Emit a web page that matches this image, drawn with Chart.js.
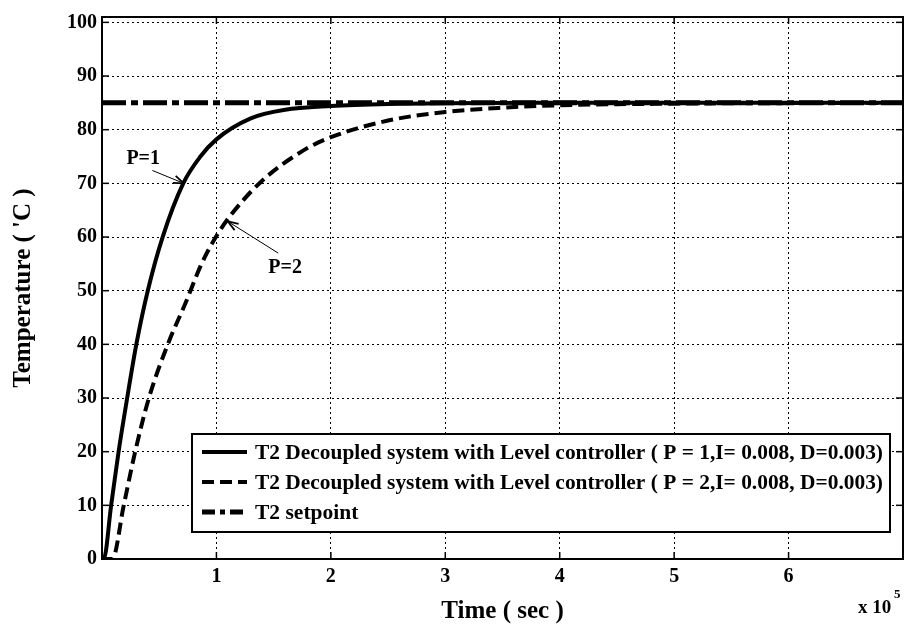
<!DOCTYPE html>
<html>
<head>
<meta charset="utf-8">
<script src="https://cdn.jsdelivr.net/npm/chart.js@4.4.1/dist/chart.umd.min.js"></script>
<style>
  html, body { margin: 0; padding: 0; background: #fff; }
  #wrap { width: 905px; height: 637px; }
</style>
</head>
<body>
<div id="wrap"><canvas id="myChart" width="905" height="637"></canvas></div>
<script>
// time in units of 1e5 s, temperature in 'C
const timeP1 = [0, 0.015, 0.08, 0.145, 0.22, 0.30, 0.40, 0.53, 0.71, 0.86, 1.0, 1.3, 1.6, 2.0, 2.5, 3.0, 4.0, 5.0, 7.0];
const tempP1 = [0, 0, 10, 20, 30, 40, 50, 60, 70, 75.0, 78.2, 82.1, 83.7, 84.4, 84.8, 84.95, 85, 85, 85];
const timeP2 = [0, 0.09, 0.19, 0.29, 0.41, 0.575, 0.73, 0.87, 1.0, 1.13, 1.4, 1.75, 2.0, 2.5, 3.0, 3.5, 4.0, 5.0, 6.0, 7.0];
const tempP2 = [0, 0, 10, 20, 30, 40, 47.7, 55.0, 60.2, 64.2, 70.5, 76.0, 78.6, 81.7, 83.3, 84.1, 84.55, 84.85, 84.95, 85];
const timeSet = [0, 7];
const tempSet = [85, 85];

const xTicks = [1, 2, 3, 4, 5, 6];
const yTicks = [0, 10, 20, 30, 40, 50, 60, 70, 80, 90, 100];

const seriesLabels = [
  'T2 Decoupled system with Level controller ( P = 1,I= 0.008, D=0.003)',
  'T2 Decoupled system with Level controller ( P = 2,I= 0.008, D=0.003)',
  'T2 setpoint'
];

const FONT = '"Liberation Serif", "Times New Roman", serif';

function toPoints(xs, ys) {
  return xs.map((x, i) => ({ x: x, y: ys[i] }));
}

// arrows pointing at the curves: text position, arrow start, arrow tip (data units)
const notes = [
  { text: 'P=1', tx: 0.36, ty: 74.6, x0: 0.44, y0: 72.4, x1: 0.715, y1: 70.0 },
  { text: 'P=2', tx: 1.60, ty: 54.2, x0: 1.54, y0: 57.0, x1: 1.10, y1: 62.9 }
];

function line(ctx, x0, y0, x1, y1) {
  ctx.beginPath();
  ctx.moveTo(x0, y0);
  ctx.lineTo(x1, y1);
  ctx.stroke();
}

const frame = {
  id: 'frame',
  afterDraw(chart) {
    const ctx = chart.ctx;
    const area = chart.chartArea;
    const xs = chart.scales.x;
    const ys = chart.scales.y;
    ctx.save();
    ctx.strokeStyle = '#000';
    ctx.fillStyle = '#000';

    // inner tick marks, matlab style
    ctx.lineWidth = 1.5;
    ctx.setLineDash([]);
    for (const v of xTicks) {
      const px = xs.getPixelForValue(v);
      line(ctx, px, area.bottom, px, area.bottom - 7);
      line(ctx, px, area.top, px, area.top + 7);
    }
    for (const v of yTicks) {
      const py = ys.getPixelForValue(v);
      line(ctx, area.left, py, area.left + 7, py);
      line(ctx, area.right, py, area.right - 7, py);
    }

    // axes box
    ctx.lineWidth = 2;
    ctx.strokeRect(area.left, area.top, area.right - area.left, area.bottom - area.top);

    // P labels with arrows
    ctx.font = 'bold 20px ' + FONT;
    ctx.textAlign = 'center';
    ctx.textBaseline = 'middle';
    for (const n of notes) {
      ctx.fillText(n.text, xs.getPixelForValue(n.tx), ys.getPixelForValue(n.ty));
      const ax = xs.getPixelForValue(n.x0), ay = ys.getPixelForValue(n.y0);
      const bx = xs.getPixelForValue(n.x1), by = ys.getPixelForValue(n.y1);
      ctx.lineWidth = 1;
      line(ctx, ax, ay, bx, by);
      const ang = Math.atan2(by - ay, bx - ax);
      ctx.lineWidth = 1.8;
      for (const s of [-1, 1]) {
        line(ctx, bx, by, bx - 11 * Math.cos(ang + s * 0.35), by - 11 * Math.sin(ang + s * 0.35));
      }
    }

    // legend box
    const lx = 192, ly = 434, lw = 698, lh = 98;
    ctx.fillStyle = '#fff';
    ctx.fillRect(lx, ly, lw, lh);
    ctx.lineWidth = 2;
    ctx.strokeRect(lx, ly, lw, lh);
    ctx.fillStyle = '#000';
    ctx.textAlign = 'left';
    const rows = [452, 482, 512];
    chart.data.datasets.forEach((ds, i) => {
      const y = rows[i];
      ctx.lineWidth = ds.borderWidth;
      ctx.setLineDash(i === 2 ? [13, 5, 5, 5] : (ds.borderDash || []));
      line(ctx, 202, y, 247, y);
      ctx.setLineDash([]);
      ctx.font = 'bold 21.5px ' + FONT;
      ctx.fillText(seriesLabels[i], 255, y + 1, i === 2 ? 200 : 628);
    });

    // exponent of the time axis
    ctx.font = 'bold 19px ' + FONT;
    ctx.textAlign = 'left';
    ctx.fillText('x 10', 858, 608);
    ctx.font = 'bold 13px ' + FONT;
    ctx.fillText('5', 894, 595);
    ctx.restore();
  }
};

const ctx = document.getElementById('myChart').getContext('2d');
const myChart = new Chart(ctx, {
  type: 'line',
  plugins: [frame],
  data: {
    datasets: [{
      label: seriesLabels[0],
      data: toPoints(timeP1, tempP1),
      borderColor: '#000',
      borderWidth: 4,
      pointRadius: 0,
      cubicInterpolationMode: 'monotone'
    }, {
      label: seriesLabels[1],
      data: toPoints(timeP2, tempP2),
      borderColor: '#000',
      borderWidth: 4,
      borderDash: [12, 6],
      pointRadius: 0,
      cubicInterpolationMode: 'monotone'
    }, {
      label: seriesLabels[2],
      data: toPoints(timeSet, tempSet),
      borderColor: '#000',
      borderWidth: 5,
      borderDash: [24, 5, 7, 5],
      pointRadius: 0
    }]
  },
  options: {
    responsive: false,
    animation: false,
    layout: { padding: { top: 10, right: 2, left: 0, bottom: 0 } },
    plugins: {
      legend: { display: false },
      tooltip: { enabled: false }
    },
    scales: {
      x: {
        type: 'linear',
        min: 0,
        max: 7,
        afterBuildTicks: s => { s.ticks = xTicks.map(v => ({ value: v })); },
        afterFit: s => { s.height = 78; },
        grid: { color: '#000', lineWidth: 1, drawTicks: false },
        border: { display: false, dash: [2, 3] },
        ticks: {
          color: '#000',
          padding: 6,
          maxRotation: 0,
          font: { family: FONT, size: 20, weight: 'bold' }
        },
        title: {
          display: true,
          text: 'Time ( sec )',
          color: '#000',
          padding: { top: 0, bottom: 10 },
          font: { family: FONT, size: 25, weight: 'bold' }
        }
      },
      y: {
        min: 0,
        max: 101,
        afterBuildTicks: s => { s.ticks = yTicks.map(v => ({ value: v })); },
        afterFit: s => { s.width = 102; },
        grid: { color: '#000', lineWidth: 1, drawTicks: false },
        border: { display: false, dash: [2, 3] },
        ticks: {
          color: '#000',
          padding: 5,
          font: { family: FONT, size: 20, weight: 'bold' }
        },
        title: {
          display: true,
          text: "Temperature ( 'C )",
          color: '#000',
          padding: { top: 9, bottom: 0 },
          font: { family: FONT, size: 25, weight: 'bold' }
        }
      }
    }
  }
});
</script>
</body>
</html>
